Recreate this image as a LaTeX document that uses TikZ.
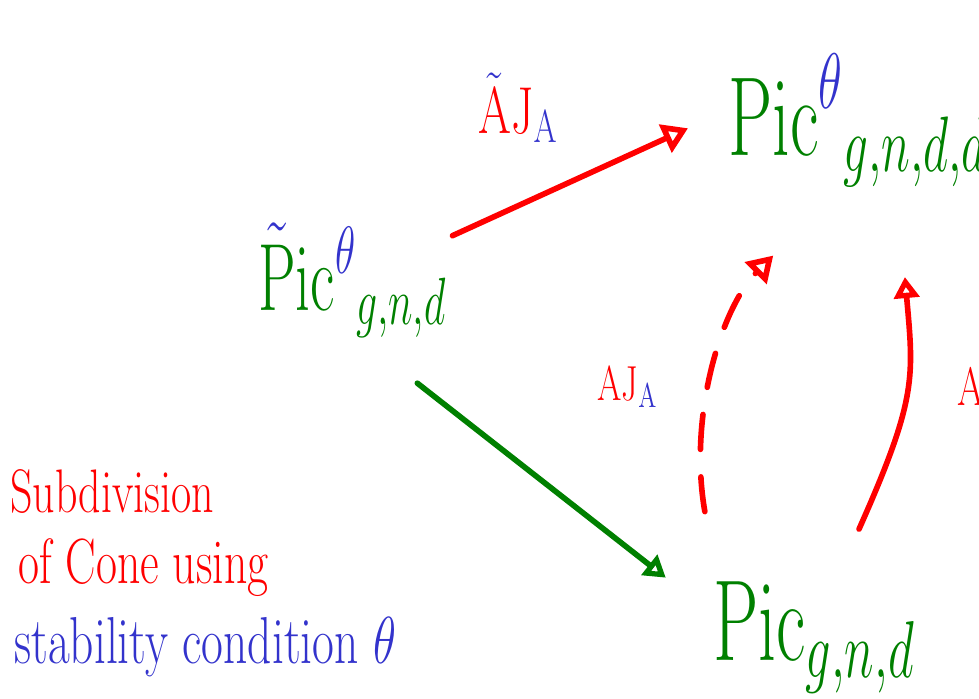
\RequirePackage{fix-cm}
\documentclass[tikz,border=0pt]{standalone}
\usepackage{amsmath}
\usepackage{graphicx}
\usepackage{xcolor}
\usetikzlibrary{arrows.meta}
\definecolor{inkred}{RGB}{255, 0, 0}
\definecolor{inkgreen}{RGB}{0, 128, 0}
\definecolor{inkblue}{RGB}{51, 51, 204}
% 手書き風に縦長にする
\newcommand{\inkstretch}[2][1.4]{\scalebox{1}[#1]{#2}}

\begin{document}
\begin{tikzpicture}[x=0.02cm, y=0.02cm,
    ink/.style={line width=3.2pt, line cap=round, line join=round},
    bigtip/.style={-{Triangle[open, length=0.5cm, width=0.6cm]}},
    smalltip/.style={-{Triangle[open, length=0.42cm, width=0.5cm]}},
    word/.style={draw=none, inner sep=0pt, anchor=base west}]
    % 描画範囲 (979 x 698)
    \useasboundingbox (0,0) rectangle (979,698);
    % 左の Pic（チルダ付き）
    \node[word, inkgreen, text height=2.7cm, text depth=0.84cm, font=\fontsize{34}{40}\selectfont] (picL) at (258,388)
        {\inkstretch[1.6]{${\color{inkblue}\tilde{\color{inkgreen}\mathrm{P}}}\mathrm{ic}^{\color{inkblue}\theta}_{g,n,d}$}};
    % 右上の Pic
    \node[word, inkgreen, text height=2.8cm, text depth=1.0cm, font=\fontsize{40}{46}\selectfont] (picT) at (728,543)
        {\inkstretch[1.6]{$\mathrm{Pic}^{\color{inkblue}\theta}_{g,n,d,d}$}};
    % 右下の Pic
    \node[word, inkgreen, text height=2.1cm, text depth=0.64cm, font=\fontsize{41}{46}\selectfont] (picB) at (713,38)
        {\inkstretch[1.6]{$\mathrm{Pic}_{g,n,d}$}};
    % 矢印のラベル
    \node[word, inkred, font=\fontsize{27}{32}\selectfont] (ajTop) at (478,565)
        {\inkstretch{${\color{inkblue}\tilde{\color{inkred}\mathrm{A}}}\mathrm{J}_{\color{inkblue}\mathrm{A}}$}};
    \node[word, inkred, font=\fontsize{20}{24}\selectfont] (ajMid) at (597,298)
        {\inkstretch{$\mathrm{AJ}_{\color{inkblue}\mathrm{A}}$}};
    \node[word, inkred, font=\fontsize{22}{26}\selectfont] (ajRight) at (957,293) {\inkstretch{$\mathrm{A}$}};
    % 左下の説明
    \node[word, inkred, font=\fontsize{25}{30}\selectfont] (note1) at (10,186) {\inkstretch{Subdivision}};
    \node[word, inkred, font=\fontsize{26}{30}\selectfont] (note2) at (18,115) {\inkstretch{of Cone using}};
    \node[word, inkblue, font=\fontsize{27}{32}\selectfont] (note3) at (14,35) {\inkstretch{stability condition $\theta$}};
    % 矢印
    \draw[ink, inkred, bigtip, shorten <=0.12cm, shorten >=0.88cm] (picL.15) -- (picT.west);
    \draw[ink, inkgreen, smalltip, shorten <=1.0cm, shorten >=1.2cm] (picL.-74) -- (picB.175);
    \draw[ink, inkred, bigtip, dash pattern=on 0.7cm off 0.55cm, shorten <=0.94cm, shorten >=1.42cm]
        (picB.147) to[out=100, in=225] (picT.-110);
    \draw[ink, inkred, smalltip, shorten <=0.56cm, shorten >=1.44cm]
        (picB.64) to[out=66, in=275, looseness=1.25] (picT.-67);
\end{tikzpicture}
\end{document}
